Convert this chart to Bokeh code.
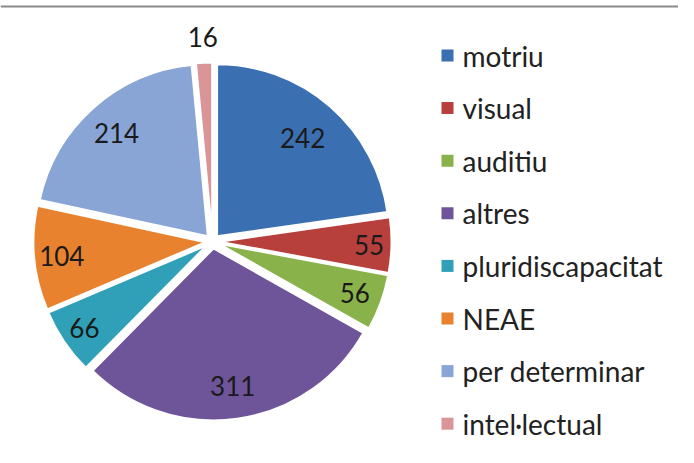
import math
import numpy as np
from bokeh.plotting import figure
from bokeh.models import ColumnDataSource, Range1d, Span
from bokeh.core.properties import value
from bokeh.embed import file_html
from bokeh.resources import INLINE

# ---- data ----
categories = ["motriu", "visual", "auditiu", "altres", "pluridiscapacitat",
              "NEAE", "per determinar", "intel·lectual"]
counts = [242, 55, 56, 311, 66, 104, 214, 16]
colors = ["#3A6FB1", "#B7403D", "#8AB24B", "#6E559A", "#2FA0B7",
          "#E8822E", "#88A5D5", "#D99597"]

# ---- layout / style ----
W, H = 678, 447
cx, cy, R, explode = 212, 206, 172, 7
# label distance from the pie centre, as a fraction of the radius (Excel "inside end")
label_rfrac = [0.80, 0.91, 0.88, 0.85, 0.90, 0.88, 0.84, 1.19]
label_fs = 26
legend_fs = 28
FONT = "Lato"

p = figure(width=W, height=H, x_range=Range1d(0, W), y_range=Range1d(0, H),
           output_backend="svg", toolbar_location=None, min_border=0)
p.axis.visible = False
p.grid.visible = False
p.outline_line_color = None
p.background_fill_color = "white"
p.border_fill_color = "white"

total = float(sum(counts))
frac = np.array(counts) / total
end_cw = np.cumsum(frac) * 2 * math.pi
start_cw = end_cw - frac * 2 * math.pi
mid = (start_cw + end_cw) / 2

wx = cx + explode * np.sin(mid)
wy = cy + explode * np.cos(mid)

src = ColumnDataSource(dict(
    x=wx, y=wy,
    start=math.pi / 2 - end_cw,
    end=math.pi / 2 - start_cw,
    color=colors, cat=categories, n=counts,
))
p.wedge(x="x", y="y", radius=R, start_angle="start", end_angle="end",
        fill_color="color", line_color="white", line_width=2, source=src)

# data labels
lx = [cx + f * R * math.sin(m) for f, m in zip(label_rfrac, mid)]
ly = [cy + f * R * math.cos(m) for f, m in zip(label_rfrac, mid)]
p.text(x=lx, y=ly, text=[str(c) for c in counts], text_font=value(FONT),
       text_font_size=f"{label_fs}px", text_align="center", text_baseline="middle",
       text_color="#1a1a1a")

# legend
n = len(categories)
leg_top = H - 55
leg_step = 52.6
leg_y = [leg_top - i * leg_step for i in range(n)]
p.rect(x=[447] * n, y=leg_y, width=12, height=12, fill_color=colors, line_color=None)
p.text(x=[462] * n, y=leg_y, text=categories, text_font=value(FONT),
       text_font_size=f"{legend_fs}px", text_align="left", text_baseline="middle",
       text_color="#222222")

# top gray rule
p.add_layout(Span(location=H - 6, dimension="width", line_color="#8a8a8a", line_width=2))

open("out.html", "w").write(file_html(p, INLINE))
